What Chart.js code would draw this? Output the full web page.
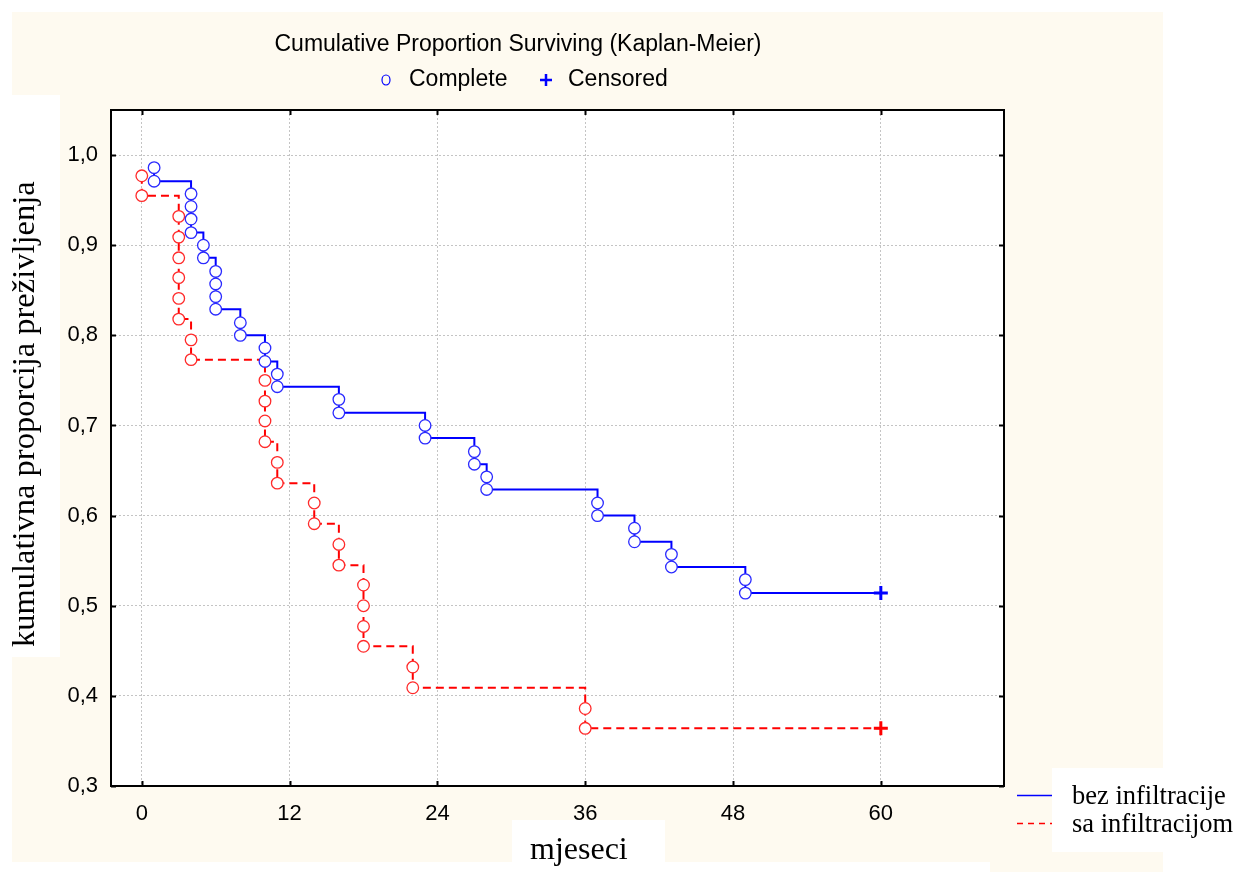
<!DOCTYPE html>
<html><head><meta charset="utf-8">
<script src="https://cdn.jsdelivr.net/npm/chart.js@4.4.0/dist/chart.umd.min.js"></script>
<style>html,body{margin:0;padding:0;background:#fff;}#wrap{width:1238px;height:872px;position:relative;}</style>
</head><body><div id="wrap"><canvas id="c" width="1238" height="872"></canvas></div>
<script>
// ---- text ----
const chartTitle = 'Cumulative Proportion Surviving (Kaplan-Meier)';
const markerLabels = ['Complete', 'Censored'];
const seriesNames = ['bez infiltracije', 'sa infiltracijom'];
const xTitle = 'mjeseci';
const yTitle = 'kumulativna proporcija preživljenja';

// ---- ticks ----
const xTickValues = [0, 12, 24, 36, 48, 60];
const yTickValues = [0.3, 0.4, 0.5, 0.6, 0.7, 0.8, 0.9, 1.0];

// ---- series 1: bez infiltracije (complete events) ----
const blueTimes = [1,1,4,4,4,4,5,5,6,6,6,6,8,8,10,10,11,11,16,16,23,23,27,27,28,28,37,37,40,40,43,43,49,49];
const blueSurv  = [0.986,0.971,0.957,0.943,0.929,0.914,0.900,0.886,0.871,0.857,0.843,0.829,0.814,0.800,0.786,0.771,0.757,0.743,0.729,0.714,0.700,0.686,0.671,0.657,0.643,0.629,0.614,0.600,0.586,0.571,0.557,0.543,0.529,0.514];
const blueCensorTimes = [60];
const blueCensorSurv  = [0.514];

// ---- series 2: sa infiltracijom (complete events) ----
const redTimes = [0,0,3,3,3,3,3,3,4,4,10,10,10,10,11,11,14,14,16,16,18,18,18,18,22,22,36,36];
const redSurv  = [0.977,0.955,0.932,0.909,0.886,0.864,0.841,0.818,0.795,0.773,0.750,0.727,0.705,0.682,0.659,0.636,0.614,0.591,0.568,0.545,0.523,0.500,0.477,0.455,0.432,0.409,0.386,0.364];
const redCensorTimes = [60];
const redCensorSurv  = [0.364];

const BLUE = '#0000ff', RED = '#ff0000';
const CREAM = '#fefaf0';
const toPts = (xs, ys) => xs.map((x, i) => ({x: x, y: ys[i]}));

const bluePts = toPts(blueTimes, blueSurv);
const redPts = toPts(redTimes, redSurv);
const blueCens = toPts(blueCensorTimes, blueCensorSurv);
const redCens = toPts(redCensorTimes, redCensorSurv);

const decor = {
  id: 'decor',
  beforeDraw(chart) {
    const ctx = chart.ctx, a = chart.chartArea;
    ctx.save();
    ctx.fillStyle = '#ffffff';
    ctx.fillRect(0, 0, chart.width, chart.height);
    ctx.fillStyle = CREAM;
    ctx.fillRect(12, 12, 1151, 850);
    ctx.fillRect(990, 850, 173, 22);
    ctx.fillStyle = '#ffffff';
    ctx.fillRect(a.left, a.top, a.right - a.left, a.bottom - a.top);
    ctx.restore();
  },
  afterDraw(chart) {
    const ctx = chart.ctx, a = chart.chartArea;
    const xs = chart.scales.x, ys = chart.scales.y;
    ctx.save();
    // frame
    ctx.strokeStyle = '#000';
    ctx.lineWidth = 2;
    ctx.strokeRect(a.left, a.top, a.right - a.left, a.bottom - a.top);
    // inward ticks on all sides
    ctx.lineWidth = 2;
    ctx.beginPath();
    xTickValues.forEach(v => {
      const px = Math.round(xs.getPixelForValue(v)) + 0.5;
      ctx.moveTo(px, a.bottom); ctx.lineTo(px, a.bottom - 5);
      ctx.moveTo(px, a.top); ctx.lineTo(px, a.top + 5);
    });
    yTickValues.forEach(v => {
      const py = Math.round(ys.getPixelForValue(v)) + 0.5;
      ctx.moveTo(a.left, py); ctx.lineTo(a.left + 5, py);
      ctx.moveTo(a.right, py); ctx.lineTo(a.right - 5, py);
    });
    ctx.stroke();

    // title
    ctx.fillStyle = '#000';
    ctx.font = '23px "Liberation Sans", Arial, sans-serif';
    ctx.textAlign = 'center';
    ctx.textBaseline = 'middle';
    ctx.fillText(chartTitle, 518, 45);
    // marker legend
    ctx.textAlign = 'left';
    ctx.fillText(markerLabels[0], 409, 80);
    ctx.fillText(markerLabels[1], 568, 80);
    ctx.strokeStyle = BLUE;
    ctx.lineWidth = 1.2;
    ctx.beginPath();
    ctx.ellipse(386, 80, 4, 5, 0, 0, Math.PI * 2);
    ctx.stroke();
    ctx.lineWidth = 2.5;
    ctx.beginPath();
    ctx.moveTo(540, 80); ctx.lineTo(552, 80);
    ctx.moveTo(546, 74); ctx.lineTo(546, 86);
    ctx.stroke();

    // y title
    ctx.fillStyle = '#ffffff';
    ctx.fillRect(12, 95, 48, 562);
    ctx.save();
    ctx.translate(34, 647);
    ctx.rotate(-Math.PI / 2);
    ctx.fillStyle = '#000';
    ctx.font = '32.5px "Liberation Serif", "Times New Roman", serif';
    ctx.textAlign = 'left';
    ctx.textBaseline = 'alphabetic';
    ctx.fillText(yTitle, 0, 0);
    ctx.restore();

    // x title
    ctx.fillStyle = '#ffffff';
    ctx.fillRect(512, 820, 153, 52);
    ctx.fillStyle = '#000';
    ctx.font = '32px "Liberation Serif", "Times New Roman", serif';
    ctx.textAlign = 'left';
    ctx.textBaseline = 'alphabetic';
    ctx.fillText(xTitle, 530, 859);

    // series legend
    ctx.lineWidth = 1.5;
    ctx.strokeStyle = BLUE;
    ctx.setLineDash([]);
    ctx.beginPath(); ctx.moveTo(1017, 795.5); ctx.lineTo(1052, 795.5); ctx.stroke();
    ctx.strokeStyle = RED;
    ctx.setLineDash([6, 5]);
    ctx.beginPath(); ctx.moveTo(1017, 823.5); ctx.lineTo(1052, 823.5); ctx.stroke();
    ctx.setLineDash([]);
    ctx.fillStyle = '#ffffff';
    ctx.fillRect(1052, 768, 186, 84);
    ctx.fillStyle = '#000';
    ctx.font = '26.5px "Liberation Serif", "Times New Roman", serif';
    ctx.textBaseline = 'alphabetic';
    ctx.fillText(seriesNames[0], 1072, 804);
    ctx.fillText(seriesNames[1], 1072, 832);
    ctx.restore();
  }
};

const fmt = v => Number(v).toFixed(1).replace('.', ',');

new Chart(document.getElementById('c'), {
  type: 'scatter',
  data: {
    datasets: [
      { label: seriesNames[0] + ' complete', data: bluePts, showLine: false, order: 1,
        pointStyle: 'circle', pointRadius: 5.8, pointBorderWidth: 1.3,
        pointBorderColor: '#2a2aff', pointBackgroundColor: '#ffffff' },
      { label: seriesNames[1] + ' complete', data: redPts, showLine: false, order: 2,
        pointStyle: 'circle', pointRadius: 5.8, pointBorderWidth: 1.3,
        pointBorderColor: '#ff2a2a', pointBackgroundColor: '#ffffff' },
      { label: seriesNames[0] + ' censored', data: blueCens, showLine: false, order: 0,
        pointStyle: 'cross', pointRadius: 7, pointBorderWidth: 3, pointBorderColor: BLUE },
      { label: seriesNames[1] + ' censored', data: redCens, showLine: false, order: 0,
        pointStyle: 'cross', pointRadius: 7, pointBorderWidth: 3, pointBorderColor: RED },
      { label: seriesNames[0], type: 'line', data: bluePts.concat(blueCens), order: 5,
        stepped: 'before', borderColor: BLUE, borderWidth: 2, pointRadius: 0, fill: false },
      { label: seriesNames[1], type: 'line', data: redPts.concat(redCens), order: 6,
        stepped: 'before', borderColor: RED, borderWidth: 2, borderDash: [8, 5], pointRadius: 0, fill: false }
    ]
  },
  options: {
    responsive: false,
    animation: false,
    devicePixelRatio: 1,
    layout: { padding: { left: 67, right: 234, top: 110, bottom: 46 } },
    plugins: { legend: { display: false }, tooltip: { enabled: false }, title: { display: false } },
    scales: {
      x: {
        type: 'linear', min: -2.5, max: 70,
        afterBuildTicks: s => { s.ticks = xTickValues.map(v => ({ value: v })); },
        afterFit: s => { s.height = 40; },
        ticks: { color: '#000', padding: 15, font: { family: '"Liberation Sans", Arial, sans-serif', size: 22 },
                 maxRotation: 0, autoSkip: false, callback: v => String(v) },
        grid: { color: '#c4c4c4', lineWidth: 1, drawTicks: false },
        border: { display: false, dash: [2, 2] }
      },
      y: {
        type: 'linear', min: 0.3, max: 1.05,
        afterBuildTicks: s => { s.ticks = yTickValues.map(v => ({ value: v })); },
        afterFit: s => { s.width = 44; },
        ticks: { color: '#000', padding: 13, font: { family: '"Liberation Sans", Arial, sans-serif', size: 22 },
                 autoSkip: false, callback: v => fmt(v) },
        grid: { color: '#c4c4c4', lineWidth: 1, drawTicks: false },
        border: { display: false, dash: [2, 2] }
      }
    }
  },
  plugins: [decor]
});
</script>
</body></html>
